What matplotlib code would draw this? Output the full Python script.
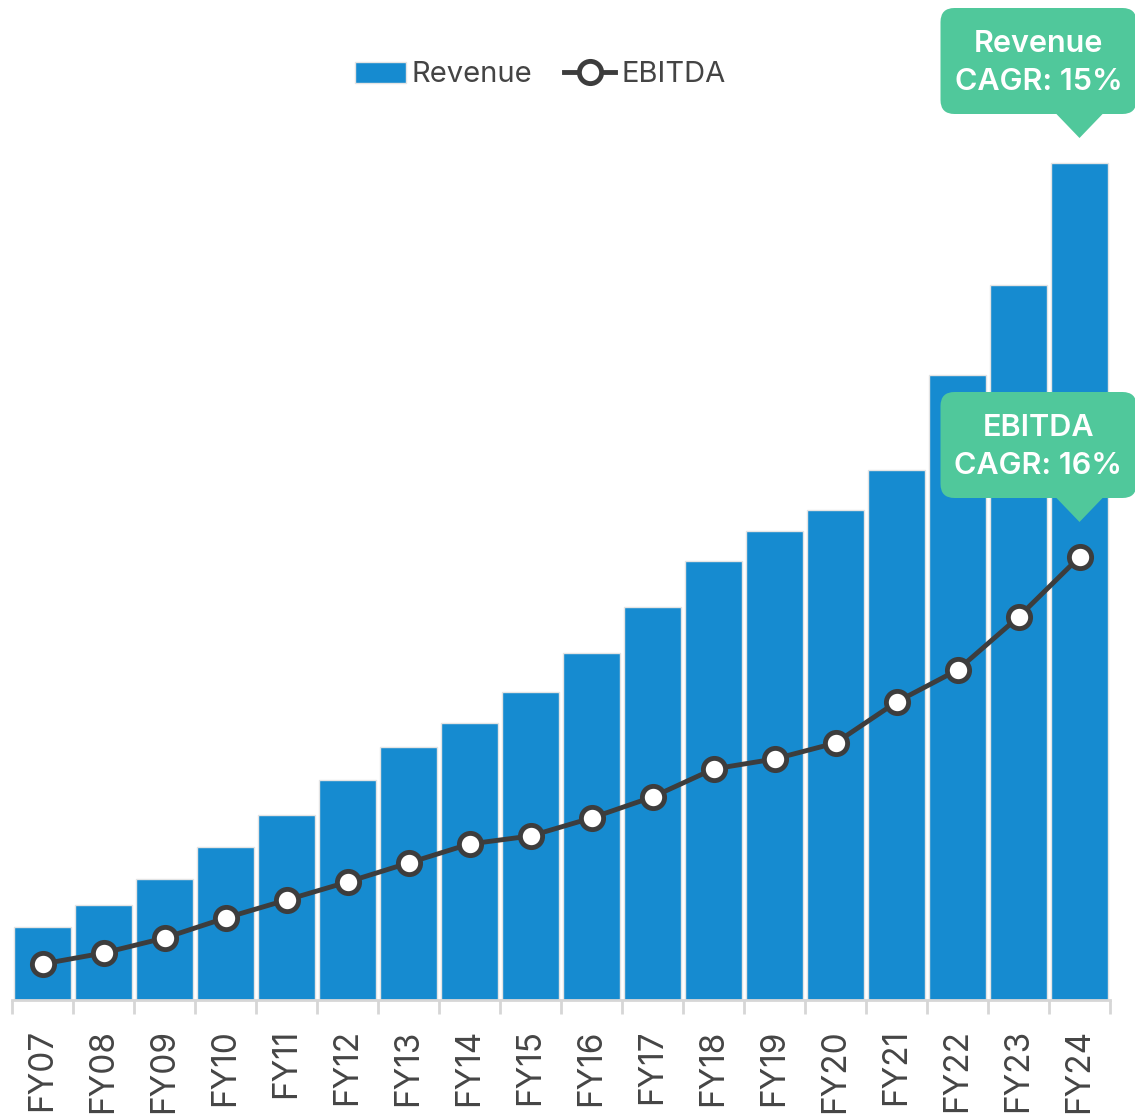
import numpy as np
import matplotlib.pyplot as plt
from matplotlib.patches import FancyBboxPatch, Polygon

plt.rcParams['font.family'] = ['Inter', 'DejaVu Sans']

years = ['FY07', 'FY08', 'FY09', 'FY10', 'FY11', 'FY12', 'FY13', 'FY14', 'FY15',
         'FY16', 'FY17', 'FY18', 'FY19', 'FY20', 'FY21', 'FY22', 'FY23', 'FY24']
revenue = [73, 95, 121, 153, 185, 220, 253, 277, 308, 347, 393, 439, 469, 490, 530, 625, 715, 837]
ebitda = [36, 47, 62, 82, 100, 118, 137, 156, 164, 182, 203, 231, 241, 257, 298, 330, 383, 443]
callouts = [('Revenue\nCAGR: 15%', revenue), ('EBITDA\nCAGR: 16%', ebitda)]

BLUE = '#168bd0'
DARK = '#3d3d3d'
GREEN = '#50c89b'

W, H = 1135, 1120
fig = plt.figure(figsize=(W / 100, H / 100), dpi=100)
ax = fig.add_axes([12 / W, 120 / H, 1098 / W, 1000 / H])

x = np.arange(len(years))
bars = ax.bar(x, revenue, width=0.93, color=BLUE, edgecolor='#e4e4e4', linewidth=1,
              label='Revenue', zorder=2)
line, = ax.plot(x, ebitda, color=DARK, lw=3.5, marker='o', markersize=16, markerfacecolor='white',
                markeredgecolor=DARK, markeredgewidth=3.5, label='EBITDA', zorder=3)

ax.set_xlim(-0.5, len(years) - 0.5)
ax.set_ylim(0, 1000)
ax.set_yticks([])
for s in ['top', 'right', 'left']:
    ax.spines[s].set_visible(False)
ax.spines['bottom'].set_color('#d6d6d6')
ax.spines['bottom'].set_linewidth(2)

# boundary ticks between categories, labels at centres
ax.set_xticks(np.arange(len(years) + 1) - 0.5)
ax.set_xticklabels([])
ax.tick_params(axis='x', which='major', length=10, width=2, color='#d6d6d6')
ax.set_xticks(x, minor=True)
ax.set_xticklabels(years, minor=True, rotation=90, fontsize=24, color='#454545')
ax.tick_params(axis='x', which='minor', length=0, pad=21)

fig.legend([bars, line], ['Revenue', 'EBITDA'], loc='center',
           bbox_to_anchor=(540 / W, 1 - 75 / H), ncol=2, frameon=False,
           fontsize=21, handlelength=1.75, handletextpad=0.2, columnspacing=1.1,
           labelcolor='#444444')

# callout bubbles above the last point of each series
fig.canvas.draw()
for text, series in callouts:
    px, py = ax.transData.transform((x[-1], series[-1]))
    gap = 25 if series is revenue else 35
    tip_y = py + gap
    tri_h, tri_w = 26, 50
    bw, bh = 196, 106
    cx = px - 41
    by = tip_y + tri_h - 2
    box = FancyBboxPatch((cx - bw / 2, by), bw, bh, boxstyle='round,pad=0,rounding_size=14',
                         transform=None, facecolor=GREEN, edgecolor='none', zorder=5)
    fig.patches.append(box)
    tri = Polygon([(px - tri_w / 2, by + 2), (px + tri_w / 2, by + 2), (px, tip_y)],
                  closed=True, transform=None, facecolor=GREEN, edgecolor='none', zorder=5)
    fig.patches.append(tri)
    fig.text(cx / W, (by + bh / 2 - 2) / H, text, ha='center', va='center', color='white',
             fontsize=22, fontweight='semibold', linespacing=1.45, zorder=6)

fig.savefig('out.png', dpi=100)
